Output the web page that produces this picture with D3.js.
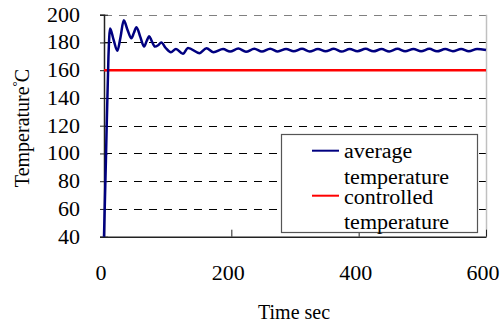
<!DOCTYPE html>
<html>
<head>
<meta charset="utf-8">
<script src="https://cdn.jsdelivr.net/npm/d3@7"></script>
<style>
  html, body { margin: 0; padding: 0; background: #fff; }
  svg { display: block; }
</style>
</head>
<body>
<svg id="chart" width="504" height="324"></svg>
<script>
// Time axis (seconds) and measured average temperature (°C)
const timeSec = [0, 3, 7, 9.5, 15, 21, 26, 31, 37, 43, 47, 51, 57, 63, 67, 71, 75, 80, 85, 90,
  97, 105, 113, 124, 132, 150, 161, 172, 187, 198, 211, 223, 236, 248, 261, 273, 286, 298,
  311, 323, 336, 348, 361, 373, 386, 398, 411, 423, 436, 448, 461, 473, 486, 498, 511, 523,
  536, 548, 561, 573, 586, 600];
const avgTemp = [40, 95, 170, 190, 182, 174, 184, 196, 189, 183, 187, 191, 184, 177, 181, 184.5, 181, 177, 178, 180,
  176, 173, 175.3, 171.8, 176, 172.3, 175.8, 173, 175.3, 173.4, 175.6, 173.3, 175.4, 173.4, 175.5, 173.5, 175.3, 173.6,
  175.4, 173.5, 175.2, 173.6, 175.4, 173.4, 175.3, 173.7, 175.4, 173.6, 175.2, 173.5, 175.4, 173.7, 175.3, 173.6, 175.4, 173.6,
  175.2, 173.7, 175.3, 173.6, 175.3, 174.6];
// Set point
const controlledTemp = 160;

const xTicks = [0, 200, 400, 600];
const yTicks = [40, 60, 80, 100, 120, 140, 160, 180, 200];
const legendLabels = [["average", "temperature"], ["controlled", "temperature"]];

const SERIF = '"Liberation Serif", "Times New Roman", "DejaVu Serif", serif';
const svg = d3.select("#chart");
const x = d3.scaleLinear().domain([0, 600]).range([104, 486]);
const y = d3.scaleLinear().domain([40, 200]).range([236.7, 14.7]);
const H = 1.1; // horizontal stretch of the serif labels

// dashed horizontal gridlines
svg.append("g").selectAll("line")
  .data(yTicks.filter(v => v > 40))
  .join("line")
  .attr("x1", x(0)).attr("x2", x(600))
  .attr("y1", d => Math.round(y(d)) + 0.5).attr("y2", d => Math.round(y(d)) + 0.5)
  .attr("stroke", d => d === 200 ? "#808080" : "#000")
  .attr("stroke-width", 1)
  .attr("stroke-dasharray", "8,7");

// right border
svg.append("line")
  .attr("x1", x(600) + 0.5).attr("x2", x(600) + 0.5)
  .attr("y1", y(200)).attr("y2", y(40))
  .attr("stroke", "#c0c0c0").attr("stroke-width", 1.5);

// y axis with cross ticks
const yAxis = svg.append("g")
  .attr("transform", `translate(${x(0)},0)`)
  .call(d3.axisLeft(y).tickValues(yTicks).tickSize(4).tickFormat(""));
yAxis.select(".domain").attr("stroke", "#222").attr("stroke-width", 1.5);
yAxis.selectAll(".tick line").attr("x2", 4).attr("x1", -4).attr("stroke", "#222");

// x axis with inside ticks
const xAxis = svg.append("g")
  .attr("transform", `translate(0,${y(40)})`)
  .call(d3.axisBottom(x).tickValues(xTicks).tickSizeInner(-7).tickSizeOuter(0).tickFormat(""));
xAxis.select(".domain").attr("stroke", "#222").attr("stroke-width", 1.5);
xAxis.selectAll(".tick line").attr("stroke", "#222");

// shared text styling
function serif(sel, size) {
  return sel.attr("font-family", SERIF).style("font-family", SERIF)
    .attr("font-size", size).style("fill", "#000");
}
// widen a label horizontally by factor H
function widen(sel) {
  sel.each(function () {
    const w = this.getComputedTextLength();
    d3.select(this).attr("textLength", w * H).attr("lengthAdjust", "spacingAndGlyphs");
  });
  return sel;
}

// tick labels
widen(serif(svg.append("g").selectAll("text")
  .data(yTicks)
  .join("text")
  .attr("x", 80).attr("y", d => y(d) + 7)
  .attr("text-anchor", "end")
  .text(d => d), 20));

widen(serif(svg.append("g").selectAll("text")
  .data(xTicks)
  .join("text")
  .attr("x", d => x(d) - 3).attr("y", 280)
  .attr("text-anchor", "middle")
  .text(d => d), 20));

// axis titles
serif(svg.append("text")
  .attr("x", 258).attr("y", 319)
  .text("Time sec"), 20);

const yt = serif(svg.append("text")
  .attr("transform", "rotate(-90)")
  .attr("x", -128).attr("y", 29)
  .attr("text-anchor", "middle"), 20);
yt.append("tspan").text("Temperature");
yt.append("tspan").attr("font-size", 13).attr("dy", -8).text("°");
yt.append("tspan").attr("dy", 8).attr("dx", -1).text("C");

// set-point line
svg.append("line")
  .attr("x1", x(0)).attr("x2", x(600))
  .attr("y1", y(controlledTemp)).attr("y2", y(controlledTemp))
  .attr("stroke", "#ff0000").attr("stroke-width", 2.5);

// average temperature curve
const line = d3.line()
  .x((d, i) => x(timeSec[i]))
  .y(d => y(d))
  .curve(d3.curveMonotoneX);
svg.append("path")
  .datum(avgTemp)
  .attr("d", line)
  .attr("fill", "none")
  .attr("stroke", "#000080")
  .attr("stroke-width", 2.5)
  .attr("stroke-linejoin", "round");

// legend
const lg = svg.append("g");
lg.append("rect")
  .attr("x", 281.5).attr("y", 134.5).attr("width", 196).attr("height", 98)
  .attr("fill", "#fff").attr("stroke", "#555").attr("stroke-width", 1.2);
const legendColors = ["#000080", "#ff0000"];
const legendLineY = [150.7, 195.7];
const legendBaselines = [[158, 183.5], [203.5, 229]];
legendLabels.forEach((lab, i) => {
  lg.append("line")
    .attr("x1", 312).attr("x2", 339)
    .attr("y1", legendLineY[i]).attr("y2", legendLineY[i])
    .attr("stroke", legendColors[i]).attr("stroke-width", 2);
  lab.forEach((t, j) => {
    widen(serif(lg.append("text")
      .attr("x", 344).attr("y", legendBaselines[i][j])
      .text(t), 20));
  });
});
</script>
</body>
</html>
